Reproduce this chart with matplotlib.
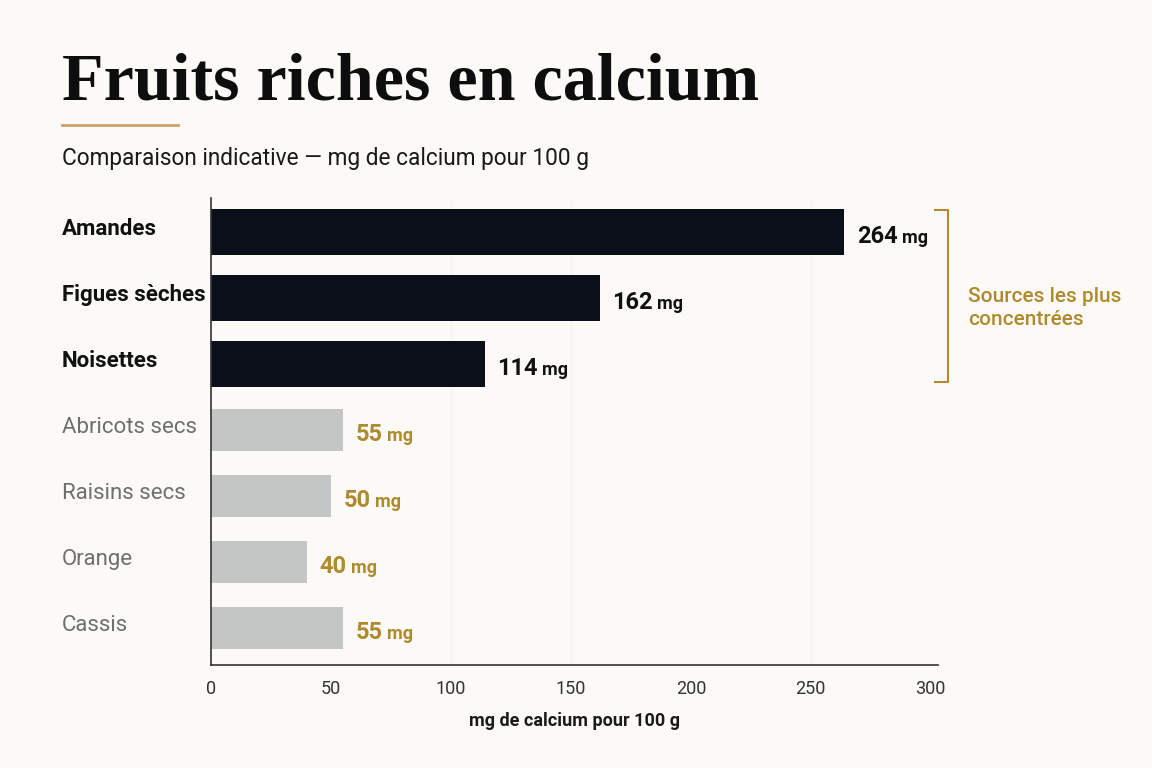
import matplotlib.pyplot as plt
from matplotlib.transforms import blended_transform_factory

# data
fruits = ["Amandes", "Figues sèches", "Noisettes", "Abricots secs",
          "Raisins secs", "Orange", "Cassis"]
calcium = [264, 162, 114, 55, 50, 40, 55]
top_group = [True, True, True, False, False, False, False]
xticks = [0, 50, 100, 150, 200, 250, 300]

bg = "#fbfaf6"
dark = "#0a0f1a"
grey = "#c4c5c5"
gold = "#b08a2e"

plt.rcParams["font.family"] = ["Roboto", "DejaVu Sans"]

fig = plt.figure(figsize=(11.52, 7.68), dpi=100, facecolor=bg)
ax = fig.add_axes([0.1832, 0.1341, 0.631, 0.608], facecolor=bg)

ys = list(range(len(fruits)))
colors = [dark if t else grey for t in top_group]
heights = [0.71 if t else 0.63 for t in top_group]
ax.barh(ys, calcium, height=heights, color=colors, zorder=2)

ax.set_xlim(0, 303)
ax.set_ylim(6.56, -0.515)

# very faint grid
for g in [100, 150, 250]:
    ax.axvline(g, color="#f3f2ee", lw=0.8, zorder=1)

for s in ["top", "right"]:
    ax.spines[s].set_visible(False)
for s in ["left", "bottom"]:
    ax.spines[s].set_color("#333333")
    ax.spines[s].set_linewidth(1.2)

ax.set_xticks(xticks)
ax.set_xticklabels([str(v) for v in xticks], fontsize=13, color="#333333")
ax.tick_params(axis="x", length=0, pad=11)
ax.set_yticks([])
ax.set_xlabel("mg de calcium pour 100 g", fontsize=13, fontweight="bold",
              color="#1a1a1a", labelpad=10)

# category labels
trans = blended_transform_factory(fig.transFigure, ax.transData)
for y, name, t in zip(ys, fruits, top_group):
    ax.text(62 / 1152, y - 0.04, name, transform=trans, ha="left", va="center",
            fontsize=16, fontweight="bold" if t else "normal",
            color="#111111" if t else "#6f6f6f")

# value labels: number + smaller "mg" on the same baseline
nums = []
for y, v, t in zip(ys, calcium, top_group):
    c = "#111111" if t else gold
    num = ax.annotate(str(v), xy=(v, y + 0.17), xytext=(9, 0),
                      textcoords="offset points", ha="left", va="baseline",
                      fontsize=17, fontweight="bold", color=c)
    nums.append((num, v, y, c))

fig.canvas.draw()
renderer = fig.canvas.get_renderer()
for num, v, y, c in nums:
    w = num.get_window_extent(renderer).width * 72 / fig.dpi
    ax.annotate("mg", xy=(v, y + 0.17), xytext=(9 + w + 3, 0),
                textcoords="offset points", ha="left", va="baseline",
                fontsize=13, fontweight="bold", color=c)

# bracket for top sources
bx0, bx1 = 935 / 1152, 948 / 1152
by0, by1 = 1 - 210 / 768, 1 - 382 / 768
fig.add_artist(plt.Line2D([bx0, bx1, bx1, bx0], [by0, by0, by1, by1],
                          color=gold, lw=1.5, transform=fig.transFigure))
fig.text(968 / 1152, 1 - 308 / 768, "Sources les plus\nconcentrées",
         ha="left", va="center", fontsize=15, fontweight="medium",
         color=gold, linespacing=1.3)

# title, rule, subtitle
fig.text(62 / 1152, 1 - 100 / 768, "Fruits riches en calcium",
         family=["Liberation Serif", "DejaVu Serif"], fontweight="bold",
         fontsize=49, color="#0d0d0d", ha="left", va="baseline")
fig.add_artist(plt.Line2D([62 / 1152, 178 / 1152], [1 - 125 / 768] * 2,
                          color="#c9a46a", lw=2, transform=fig.transFigure))
fig.text(62 / 1152, 1 - 158 / 768,
         "Comparaison indicative — mg de calcium pour 100 g",
         fontsize=16.3, color="#1a1a1a", ha="left", va="center")

fig.savefig("out.png", dpi=100, facecolor=bg)
